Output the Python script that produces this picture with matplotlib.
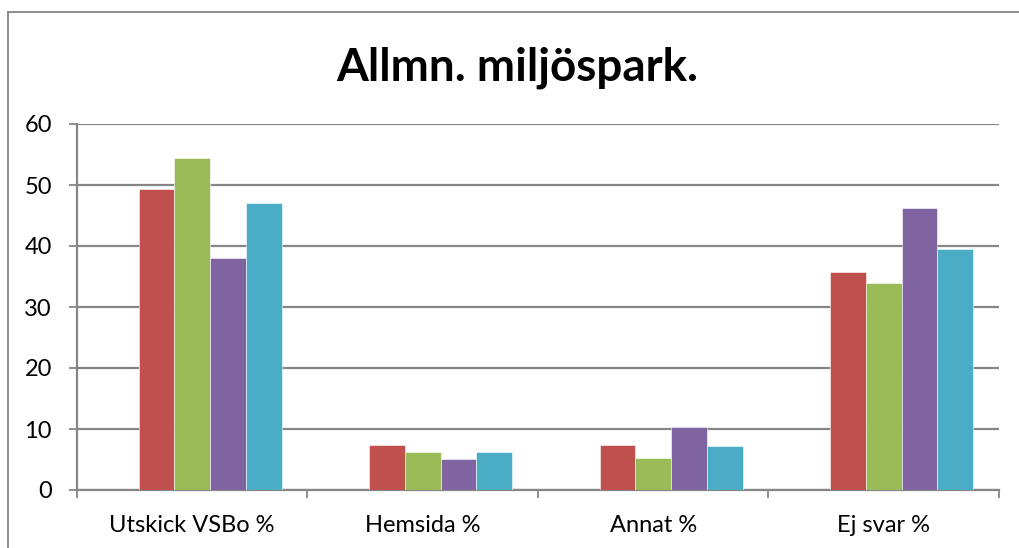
import numpy as np
import matplotlib
matplotlib.use('Agg')
import matplotlib.pyplot as plt
from matplotlib.lines import Line2D

plt.rcParams['font.family'] = ['Lato', 'DejaVu Sans']

# data
categories = ['Utskick VSBo %', 'Hemsida %', 'Annat %', 'Ej svar %']
series_red = [49.3, 7.4, 7.4, 35.8]
series_green = [54.5, 6.2, 5.3, 33.9]
series_purple = [38.1, 5.1, 10.4, 46.2]
series_cyan = [47.0, 6.2, 7.2, 39.5]
y_ticks = [0, 10, 20, 30, 40, 50, 60]

series = [series_red, series_green, series_purple, series_cyan]
colors = ['#C0504D', '#9BBB59', '#8064A2', '#4BACC6']
grid_col = '#868686'

fig = plt.figure(figsize=(10.2, 5.48), dpi=100)
ax = fig.add_axes([77 / 1020, 58 / 548, 922 / 1020, 366 / 548])

x = np.arange(len(categories))
w = 0.155
# five slots per group, the first one is empty in the original
for i, (vals, c) in enumerate(zip(series, colors)):
    ax.bar(x + (i - 1) * w, vals, width=w, color=c, edgecolor='white',
           linewidth=0.4, zorder=3)

ax.set_xlim(-0.5, len(categories) - 0.5)
ax.set_ylim(0, 60)
ax.set_yticks(y_ticks)
ax.yaxis.grid(True, color=grid_col, linewidth=1.6, zorder=0)
ax.set_axisbelow(True)

ax.set_xticks(x)
ax.set_xticklabels(categories, fontsize=17)
ax.set_xticks(np.arange(len(categories) + 1) - 0.5, minor=True)
ax.tick_params(axis='x', which='major', length=0, pad=18)
ax.tick_params(axis='x', which='minor', length=6, width=1.3, color=grid_col)
ax.tick_params(axis='y', length=6, width=1.3, color=grid_col, labelsize=17,
               pad=12)

for s in ['top', 'right']:
    ax.spines[s].set_visible(False)
for s in ['left', 'bottom']:
    ax.spines[s].set_color(grid_col)
    ax.spines[s].set_linewidth(1.6)

fig.text(517 / 1020, 1 - 68 / 548, 'Allmn. miljöspark.', ha='center',
         va='center', fontsize=33, fontweight='bold')

# outer chart border
fig.add_artist(Line2D([8.5 / 1020, 1], [1 - 12 / 548, 1 - 12 / 548],
                      color=grid_col, linewidth=1.3))
fig.add_artist(Line2D([8.5 / 1020, 8.5 / 1020], [0, 1 - 12 / 548],
                      color=grid_col, linewidth=1.3))

fig.savefig('out.png', dpi=100)
